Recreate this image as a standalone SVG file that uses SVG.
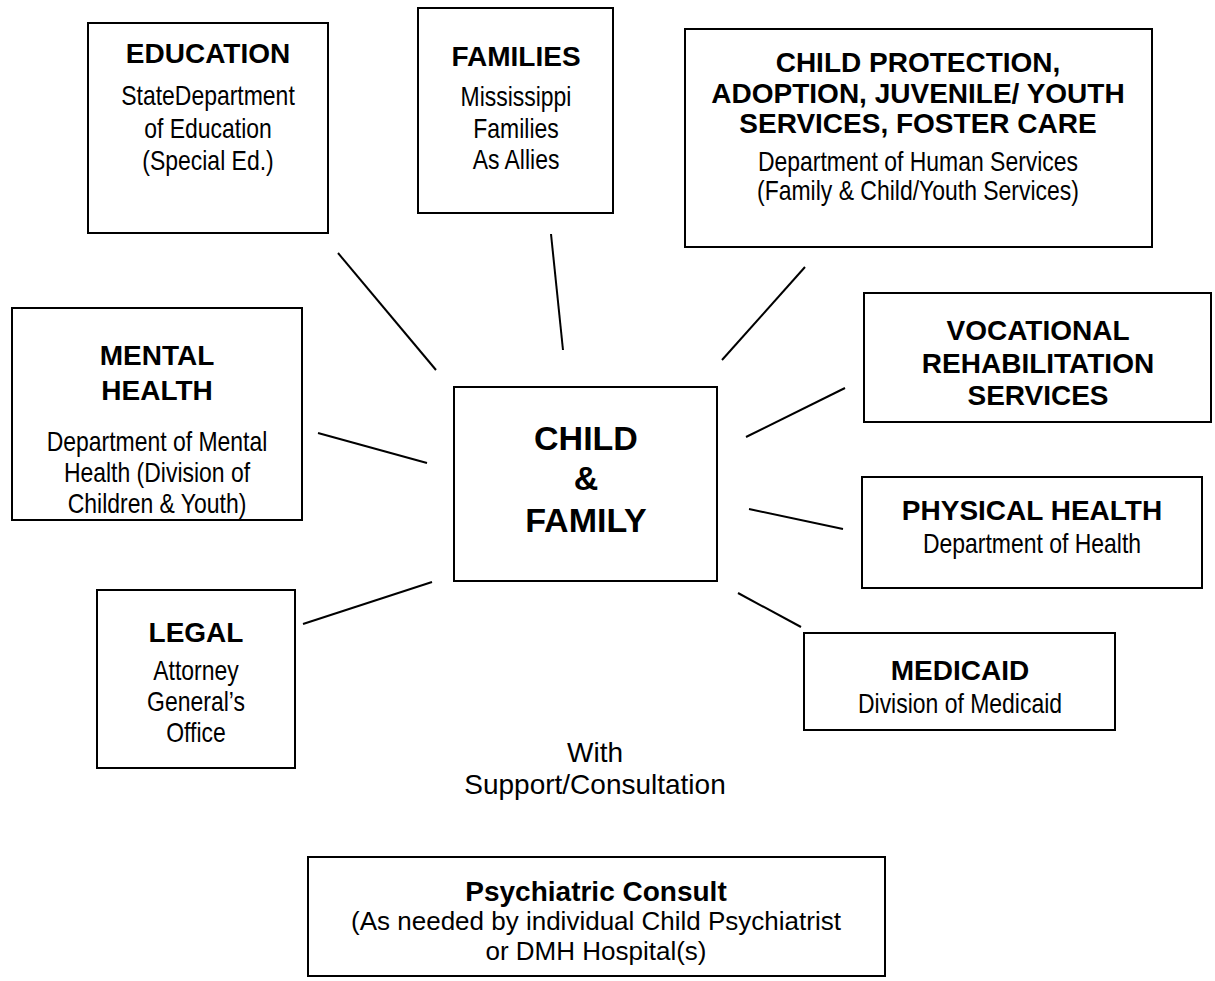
<svg xmlns="http://www.w3.org/2000/svg" width="1215" height="981" viewBox="0 0 1215 981">
<style>
rect.box { fill: #ffffff; stroke: #000000; stroke-width: 2; }
line.link { stroke: #000000; stroke-width: 2; }
text { fill: #000000; text-anchor: middle; }
.t { font-family: "Liberation Sans", Arial, sans-serif; font-weight: bold; font-size: 28px; }
.s { font-family: "Liberation Sans", Arial, sans-serif; font-size: 28px; }
.c { font-family: "Liberation Sans", Arial, sans-serif; font-weight: bold; font-size: 34px; }
.r { font-family: "Liberation Sans", Arial, sans-serif; font-size: 28px; }
.p { font-family: "Liberation Sans", Arial, sans-serif; font-size: 26px; }
</style>
<rect width="1215" height="981" fill="#ffffff"/>
<g id="connectors">
<line class="link" x1="338" y1="253" x2="436" y2="370"/>
<line class="link" x1="551" y1="234" x2="563" y2="350"/>
<line class="link" x1="805" y1="267" x2="722" y2="360"/>
<line class="link" x1="845" y1="388" x2="746" y2="437"/>
<line class="link" x1="318" y1="433" x2="427" y2="463"/>
<line class="link" x1="749" y1="509" x2="843" y2="529"/>
<line class="link" x1="303" y1="624" x2="432" y2="582"/>
<line class="link" x1="738" y1="593" x2="801" y2="627"/>
</g>
<g id="education">
<rect class="box" x="88" y="23" width="240" height="210"/>
<text class="t" x="208" y="63">EDUCATION</text>
<text class="s" transform="translate(208,105) scale(0.82,1)">StateDepartment</text>
<text class="s" transform="translate(208,138) scale(0.82,1)">of Education</text>
<text class="s" transform="translate(208,170) scale(0.82,1)">(Special Ed.)</text>
</g>
<g id="families">
<rect class="box" x="418" y="8" width="195" height="205"/>
<text class="t" x="516" y="66">FAMILIES</text>
<text class="s" transform="translate(516,106) scale(0.82,1)">Mississippi</text>
<text class="s" transform="translate(516,138) scale(0.82,1)">Families</text>
<text class="s" transform="translate(516,169) scale(0.82,1)">As Allies</text>
</g>
<g id="child-protection">
<rect class="box" x="685" y="29" width="467" height="218"/>
<text class="t" x="918" y="72">CHILD PROTECTION,</text>
<text class="t" x="918" y="103">ADOPTION, JUVENILE/ YOUTH</text>
<text class="t" x="918" y="133">SERVICES, FOSTER CARE</text>
<text class="s" transform="translate(918,171) scale(0.82,1)">Department of Human Services</text>
<text class="s" transform="translate(918,200) scale(0.82,1)">(Family &amp; Child/Youth Services)</text>
</g>
<g id="vocational">
<rect class="box" x="864" y="293" width="347" height="129"/>
<text class="t" x="1038" y="340">VOCATIONAL</text>
<text class="t" x="1038" y="373">REHABILITATION</text>
<text class="t" x="1038" y="405">SERVICES</text>
</g>
<g id="mental-health">
<rect class="box" x="12" y="308" width="290" height="212"/>
<text class="t" x="157" y="365">MENTAL</text>
<text class="t" x="157" y="400">HEALTH</text>
<text class="s" transform="translate(157,451) scale(0.82,1)">Department of Mental</text>
<text class="s" transform="translate(157,482) scale(0.82,1)">Health (Division of</text>
<text class="s" transform="translate(157,513) scale(0.82,1)">Children &amp; Youth)</text>
</g>
<g id="child-family">
<rect class="box" x="454" y="387" width="263" height="194"/>
<text class="c" x="586" y="450">CHILD</text>
<text class="c" x="586" y="490">&amp;</text>
<text class="c" x="586" y="532">FAMILY</text>
</g>
<g id="physical-health">
<rect class="box" x="862" y="477" width="340" height="111"/>
<text class="t" x="1032" y="520">PHYSICAL HEALTH</text>
<text class="s" transform="translate(1032,553) scale(0.82,1)">Department of Health</text>
</g>
<g id="legal">
<rect class="box" x="97" y="590" width="198" height="178"/>
<text class="t" x="196" y="642">LEGAL</text>
<text class="s" transform="translate(196,680) scale(0.82,1)">Attorney</text>
<text class="s" transform="translate(196,711) scale(0.82,1)">General’s</text>
<text class="s" transform="translate(196,742) scale(0.82,1)">Office</text>
</g>
<g id="medicaid">
<rect class="box" x="804" y="633" width="311" height="97"/>
<text class="t" x="960" y="680">MEDICAID</text>
<text class="s" transform="translate(960,713) scale(0.82,1)">Division of Medicaid</text>
</g>
<g id="support-label">
<text class="r" x="595" y="762">With</text>
<text class="r" x="595" y="794">Support/Consultation</text>
</g>
<g id="psychiatric">
<rect class="box" x="308" y="857" width="577" height="119"/>
<text class="t" x="596" y="901">Psychiatric Consult</text>
<text class="p" x="596" y="930">(As needed by individual Child Psychiatrist</text>
<text class="p" x="596" y="960">or DMH Hospital(s)</text>
</g>
</svg>
